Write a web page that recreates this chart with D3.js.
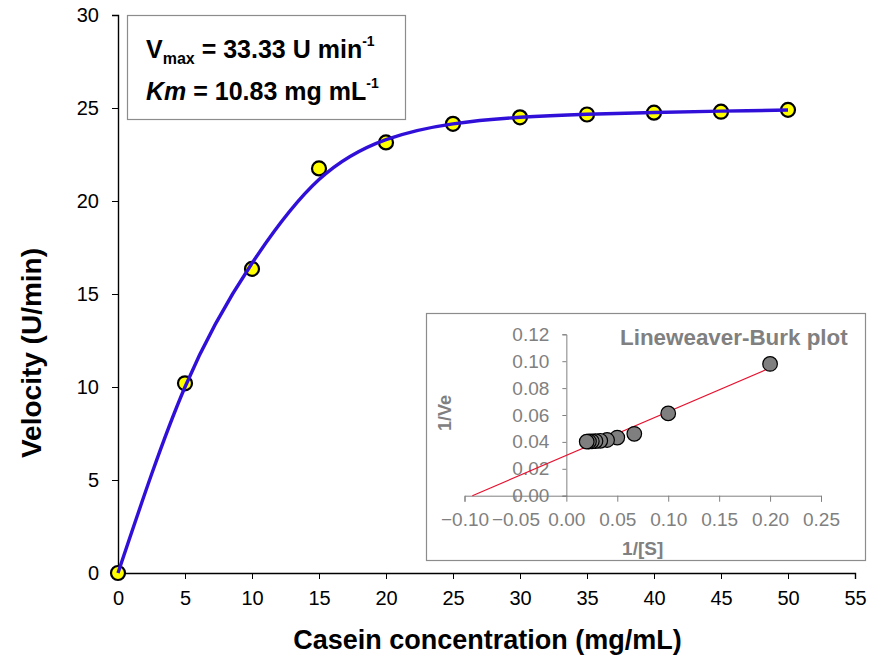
<!DOCTYPE html>
<html><head><meta charset="utf-8">
<script src="https://cdn.jsdelivr.net/npm/d3@7"></script>
<style>
body{margin:0;background:#fff}
text{font-family:"Liberation Sans",Arial,sans-serif}
</style>
</head><body>
<svg id="c" width="873" height="659"></svg>
<script>
// ---- main plot data ----
const concentration = [0, 5, 10, 15, 20, 25, 30, 35, 40, 45, 50];
const velocity = [0, 10.2, 16.35, 21.75, 23.15, 24.15, 24.5, 24.65, 24.75, 24.8, 24.9];
// fitted curve
const fitX = [0, 5, 10, 15, 20, 25, 30, 35, 40, 45, 50];
const fitY = [0, 10.0, 16.65, 21.15, 23.3, 24.15, 24.5, 24.66, 24.76, 24.83, 24.89];
const xTicks = [0, 5, 10, 15, 20, 25, 30, 35, 40, 45, 50, 55];
const yTicks = [0, 5, 10, 15, 20, 25, 30];
const xTitle = "Casein concentration (mg/mL)";
const yTitle = "Velocity (U/min)";
// ---- inset (Lineweaver-Burk) data ----
const invS = [0.2, 0.1, 0.0667, 0.05, 0.04, 0.0333, 0.0286, 0.025, 0.0222, 0.02];
const invV = [0.098, 0.0612, 0.046, 0.0432, 0.0414, 0.0408, 0.0406, 0.0404, 0.0403, 0.0402];
const lbLineX = [-0.0923, 0.2];
const lbLineY = [0, 0.095];
const lbXTicks = [-0.10, -0.05, 0.00, 0.05, 0.10, 0.15, 0.20, 0.25];
const lbYTicks = [0.00, 0.02, 0.04, 0.06, 0.08, 0.10, 0.12];
const lbTitle = "Lineweaver-Burk plot";

const svg = d3.select("#c");
const FF = '"Liberation Sans",Arial,sans-serif';

// ---------- main chart ----------
const x = d3.scaleLinear().domain([0, 55]).range([118, 855]);
const y = d3.scaleLinear().domain([0, 30]).range([573, 15]);

const gx = svg.append("g").attr("transform", `translate(0,${y(0)})`)
  .call(d3.axisBottom(x).tickValues(xTicks).tickSize(6).tickPadding(12).tickFormat(d3.format("d")));
const gy = svg.append("g").attr("transform", `translate(${x(0)},0)`)
  .call(d3.axisLeft(y).tickValues(yTicks).tickSize(6).tickPadding(13).tickFormat(d3.format("d")));
[gx, gy].forEach(g => {
  g.select(".domain").attr("stroke", "#000").attr("stroke-width", 1.4);
  g.selectAll(".tick line").attr("stroke", "#000").attr("stroke-width", 1);
  g.selectAll(".tick text").attr("fill", "#000").style("font-size", "20px").style("font-family", FF);
});

// annotation box
svg.append("rect").attr("x", 127.5).attr("y", 15.5).attr("width", 278).attr("height", 104)
  .attr("fill", "#fff").attr("stroke", "#8c8c8c").attr("stroke-width", 1.2);
const t1 = svg.append("text").attr("x", 146).attr("y", 58)
  .style("font-size", "25px").style("font-weight", "bold").attr("fill", "#000");
t1.append("tspan").text("V");
t1.append("tspan").attr("dy", 6).style("font-size", "16px").text("max");
t1.append("tspan").attr("dy", -6).text(" = 33.33 U min");
t1.append("tspan").attr("dy", -12).style("font-size", "14px").text("-1");
const t2 = svg.append("text").attr("x", 146).attr("y", 100)
  .style("font-size", "25px").style("font-weight", "bold").attr("fill", "#000");
t2.append("tspan").style("font-style", "italic").text("Km");
t2.append("tspan").text(" = 10.83 mg mL");
t2.append("tspan").attr("dy", -12).style("font-size", "14px").text("-1");

// data points
svg.append("g").selectAll("circle").data(concentration).join("circle")
  .attr("cx", d => x(d)).attr("cy", (d, i) => y(velocity[i])).attr("r", 7)
  .attr("fill", "#ffff00").attr("stroke", "#000").attr("stroke-width", 2.2);

// fitted curve on top
const fitData = fitX.map((d, i) => [d, fitY[i]]);
svg.append("path").datum(fitData)
  .attr("d", d3.line().x(d => x(d[0])).y(d => y(d[1])).curve(d3.curveNatural))
  .attr("fill", "none").attr("stroke", "#3010d8").attr("stroke-width", 3.4);

// axis titles
svg.append("text").attr("x", 487.5).attr("y", 649).attr("text-anchor", "middle")
  .style("font-size", "27px").style("font-weight", "bold").text(xTitle);
svg.append("text").attr("transform", "translate(41,353) rotate(-90)").attr("text-anchor", "middle")
  .style("font-size", "28px").style("font-weight", "bold").text(yTitle);

// ---------- inset ----------
const grey = "#808080";
svg.append("rect").attr("x", 426.5).attr("y", 313.5).attr("width", 439).attr("height", 247)
  .attr("fill", "#fff").attr("stroke", "#8c8c8c").attr("stroke-width", 1.2);
const ix = d3.scaleLinear().domain([-0.10, 0.25]).range([464.5, 821]);
const iy = d3.scaleLinear().domain([0, 0.12]).range([495.7, 334.3]);

const igx = svg.append("g").attr("transform", `translate(0,${iy(0)})`)
  .call(d3.axisBottom(ix).tickValues(lbXTicks).tickSize(6).tickPadding(11).tickFormat(d3.format(".2f")));
const igy = svg.append("g").attr("transform", `translate(${ix(0)},0)`)
  .call(d3.axisLeft(iy).tickValues(lbYTicks).tickSize(4).tickPadding(13).tickFormat(d3.format(".2f")));
[igx, igy].forEach(g => {
  g.select(".domain").attr("stroke", grey).attr("stroke-width", 1);
  g.selectAll(".tick line").attr("stroke", grey);
  g.selectAll(".tick text").attr("fill", grey).style("font-size", "19px").style("font-family", FF);
});

// regression line
const lineData = lbLineX.map((d, i) => [d, lbLineY[i]]);
svg.append("path").datum(lineData)
  .attr("d", d3.line().x(d => ix(d[0])).y(d => iy(d[1])))
  .attr("stroke", "#e8102e").attr("stroke-width", 1.1).attr("fill", "none");

svg.append("g").selectAll("circle").data(invS).join("circle")
  .attr("cx", d => ix(d)).attr("cy", (d, i) => iy(invV[i])).attr("r", 7.3)
  .attr("fill", "#7f7f7f").attr("stroke", "#000").attr("stroke-width", 1.2);

svg.append("text").attr("x", 620).attr("y", 345)
  .style("font-size", "22.4px").style("font-weight", "bold").attr("fill", grey).text(lbTitle);
svg.append("text").attr("x", 642.7).attr("y", 555).attr("text-anchor", "middle")
  .style("font-size", "19px").style("font-weight", "bold").attr("fill", grey).text("1/[S]");
svg.append("text").attr("transform", "translate(451,413) rotate(-90)").attr("text-anchor", "middle")
  .style("font-size", "18px").style("font-weight", "bold").attr("fill", grey).text("1/Ve");
</script>
</body></html>
